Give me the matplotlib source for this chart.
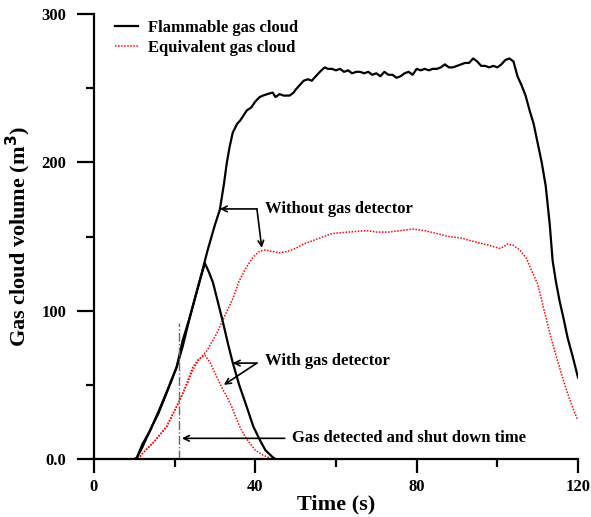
import matplotlib
matplotlib.use("Agg")
import matplotlib.pyplot as plt
from matplotlib.ticker import MultipleLocator

plt.rcParams['font.family'] = ['Liberation Serif', 'DejaVu Serif']
plt.rcParams['font.weight'] = 'bold'

# Flammable gas cloud, without gas detector
t_flam_no = [0, 10, 10.6, 12, 13.9, 16, 18, 20.5, 22, 23.8, 26.3, 28.2, 30, 31.2, 32.2, 32.9, 33.6, 34.4,
             35.5, 36.2, 37.9, 39, 40, 41.1, 41.9, 43, 44.3, 45, 46, 47, 48.5, 49.5, 50, 51, 52, 53, 54, 55,
             56, 57.2, 58, 59, 60, 61, 62, 63, 64, 65, 66, 67, 68, 69, 70, 71, 72, 73, 74, 75, 76, 77, 78,
             79, 80, 81, 82, 83, 84, 85, 86, 87, 88, 89, 90, 91, 92, 93, 94, 95, 96, 97, 98, 99, 100, 101,
             102, 103, 104, 105, 106, 107, 108, 109, 110, 111, 112, 113, 113.7, 114.5, 115.4, 116.4, 117.4,
             118.6, 120]
v_flam_no = [0, 0, 0.7, 10, 19, 32, 45, 62, 80, 96, 121, 141, 158, 168, 185, 199, 210, 220,
             226, 228, 235, 237, 241, 244, 245, 246, 247, 244, 246, 245, 245, 247, 249, 252, 255, 256, 255, 258,
             261, 264, 263, 263, 262, 263, 261, 262, 260, 261, 261, 260, 261, 259, 260, 258, 261, 259, 259, 257,
             258, 260, 261, 259, 263, 262, 263, 262, 263, 263, 264, 266, 264, 264, 265, 266, 267, 267, 270, 268,
             265, 265, 264, 265, 264, 266, 269, 270, 268, 258, 252, 245, 235, 226, 213, 200, 184, 158, 134, 120,
             107, 95, 82, 70, 55]

# Flammable gas cloud, with gas detector
t_flam_det = [0, 10, 10.6, 12, 13.9, 16, 18, 20.5, 22, 23.8, 25, 26.3, 27.5, 28.5, 29.5, 30.8, 32, 33.2,
              34.4, 36, 37.9, 39.5, 41.1, 42.5, 44.3, 45]
v_flam_det = [0, 0, 0.7, 8, 19.5, 31, 44.5, 62, 76, 96, 108, 121, 132, 126, 119, 105, 92, 78,
              65, 50, 35, 22, 13, 6, 1.3, 0]

# Equivalent gas cloud, without gas detector
t_eq_no = [11, 12.1, 15, 18, 21.3, 23, 24.5, 26, 28, 30.5, 32.5, 34.4, 36, 37.5, 39.4, 41, 42.5, 44, 46,
           48, 50, 52, 55, 59, 63, 67.6, 70, 73, 76, 79, 82, 85, 88, 91, 95, 98, 100.6, 101.5, 102.5, 104,
           105.5, 107.2, 108.5, 110, 111, 112, 113, 114.2, 115.4, 116.4, 117.4, 118.5, 119.8]
v_eq_no = [0, 4, 12, 22, 40, 50, 60, 67, 73, 85, 97, 108, 120, 128, 136, 140, 141, 140, 139,
           140, 142, 145, 148, 152, 153, 154, 153, 153, 154, 155, 154, 152, 150, 149, 146, 144, 142, 143, 145, 144,
           141, 135.5, 127, 118, 107, 96, 85, 73, 62, 53, 44.5, 36, 27]

# Equivalent gas cloud, with gas detector
t_eq_det = [11, 12.1, 15, 18, 21.3, 23, 24.5, 25.8, 27.5, 28.8, 30, 32, 33, 34.2, 35.2, 36.2, 37.5, 38.6,
            40, 41.9, 44.3]
v_eq_det = [0, 4, 12, 21.6, 39.8, 51, 62, 67, 70, 65, 58, 46.5, 42, 35, 28, 21.6, 15, 10.8,
            6, 2.7, 0]

shutdown_time = 21
shutdown_top = 92

fig = plt.figure(figsize=(5.91, 5.17), dpi=100)
ax = fig.add_axes([0.159, 0.112, 0.819, 0.861])

ax.plot(t_flam_no, v_flam_no, color='black', lw=1.6, label='Flammable gas cloud')
ax.plot(t_eq_no, v_eq_no, color='red', lw=1.1, ls=(0, (1, 1)), label='Equivalent gas cloud')
ax.plot(t_flam_det, v_flam_det, color='black', lw=1.6)
ax.plot(t_eq_det, v_eq_det, color='red', lw=1.1, ls=(0, (1, 1)))
ax.plot([shutdown_time, shutdown_time], [0, shutdown_top], color='#666666', lw=1.0, ls='-.')

ax.set_xlim(0, 120)
ax.set_ylim(0, 300)
ax.spines['top'].set_visible(False)
ax.spines['right'].set_visible(False)
for s in ['left', 'bottom']:
    ax.spines[s].set_linewidth(1.6)

ax.xaxis.set_major_locator(MultipleLocator(40))
ax.xaxis.set_minor_locator(MultipleLocator(20))
ax.yaxis.set_major_locator(MultipleLocator(100))
ax.yaxis.set_minor_locator(MultipleLocator(50))
ax.set_yticks([0, 100, 200, 300])
ax.set_yticklabels(['0.0', '100', '200', '300'])
ax.tick_params(axis='x', which='major', direction='out', length=10, width=1.6, labelsize=12, pad=4)
ax.tick_params(axis='x', which='minor', direction='out', length=5.5, width=1.6)
ax.tick_params(axis='y', which='major', direction='out', length=12, width=1.6, labelsize=12, pad=8)
ax.tick_params(axis='y', which='minor', direction='out', length=5.5, width=1.6)
for lab in ax.get_xticklabels() + ax.get_yticklabels():
    lab.set_fontweight('bold')

ax.set_xlabel('Time (s)', fontsize=16, fontweight='bold', labelpad=0)
ax.set_ylabel('Gas cloud volume (m$^\\mathbf{3}$)', fontsize=16, fontweight='bold', labelpad=6)

leg = ax.legend(loc='upper left', bbox_to_anchor=(0.012, 1.02), frameon=False,
                handlelength=1.4, handletextpad=0.6, labelspacing=0.25, prop={'weight': 'bold', 'size': 12})

akw = dict(arrowstyle='->', color='black', lw=1.2, shrinkA=0, shrinkB=0, mutation_scale=10)
# Without gas detector
ax.text(42.5, 168.6, 'Without gas detector', fontsize=12, fontweight='bold', va='center', ha='left')
ax.annotate('', xy=(31.2, 168.6), xytext=(40.4, 168.6), arrowprops=akw)
ax.annotate('', xy=(41.6, 142.3), xytext=(40.4, 168.6), arrowprops=akw)
# With gas detector
ax.text(42.3, 66, 'With gas detector', fontsize=12, fontweight='bold', va='center', ha='left')
ax.annotate('', xy=(34.4, 64.7), xytext=(40.4, 64.7), arrowprops=akw)
ax.annotate('', xy=(32.2, 50), xytext=(40.4, 64.7), arrowprops=akw)
# Gas detected and shut down time
ax.text(49.0, 14, 'Gas detected and shut down time', fontsize=12, fontweight='bold', va='center', ha='left')
ax.annotate('', xy=(21.8, 14), xytext=(47.3, 14), arrowprops=akw)

fig.savefig('out.png', dpi=100)
